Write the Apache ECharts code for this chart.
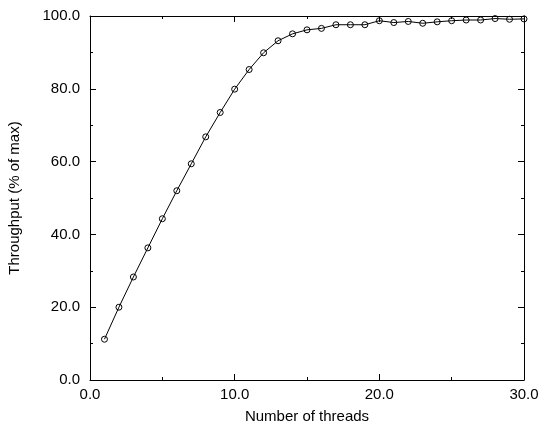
<!DOCTYPE html>
<html><head><meta charset="utf-8">
<script src="https://cdn.jsdelivr.net/npm/echarts@6/dist/echarts.min.js"></script>
<style>html,body{margin:0;padding:0;background:#fff}#c{width:541px;height:424px}</style>
</head><body><div id="c"></div>
<script>
const threads = [1,2,3,4,5,6,7,8,9,10,11,12,13,14,15,16,17,18,19,20,21,22,23,24,25,26,27,28,29,30];
const throughput = [11.2,20.0,28.3,36.3,44.3,52.0,59.4,66.8,73.5,79.9,85.3,89.9,93.2,95.1,96.2,96.6,97.6,97.6,97.6,98.7,98.2,98.5,98.0,98.4,98.7,98.9,98.9,99.3,99.1,99.2];
const xTitle = 'Number of threads';
const yTitle = 'Throughput (% of max)';

const font = 'Liberation Sans, Arial, Helvetica, sans-serif';
const fs = 15;
const axisCommon = {
  axisLine: {show: true, onZero: false, lineStyle: {color: '#000', width: 1}},
  axisTick: {show: true, inside: true, length: 6, lineStyle: {color: '#000'}},
  minorTick: {show: true, splitNumber: 2, length: 3, lineStyle: {color: '#000'}},
  splitLine: {show: false}
};
const chart = echarts.init(document.getElementById('c'));
chart.setOption({
  animation: false,
  grid: {left: 90, right: 17, top: 16, bottom: 44, containLabel: false, outerBoundsMode: 'none'},
  xAxis: [
    Object.assign({type: 'value', min: 0, max: 30, interval: 10, position: 'bottom',
      name: xTitle, nameLocation: 'middle', nameGap: 29,
      nameTextStyle: {fontFamily: font, fontSize: fs, color: '#000'},
      axisLabel: {fontFamily: font, fontSize: fs, color: '#000', margin: 7, formatter: v => v.toFixed(1)}}, axisCommon),
    Object.assign({type: 'value', min: 0, max: 30, interval: 10, position: 'top',
      axisLabel: {show: false}}, axisCommon)
  ],
  yAxis: [
    Object.assign({type: 'value', min: 0, max: 100, interval: 20, position: 'left',
      name: yTitle, nameLocation: 'middle', nameGap: 68, nameRotate: 90,
      nameTextStyle: {fontFamily: font, fontSize: fs, color: '#000'},
      axisLabel: {fontFamily: font, fontSize: fs, color: '#000', margin: 10, formatter: v => v.toFixed(1)}}, axisCommon),
    Object.assign({type: 'value', min: 0, max: 100, interval: 20, position: 'right',
      axisLabel: {show: false}}, axisCommon)
  ],
  series: [{
    type: 'line',
    data: threads.map((t, i) => [t, throughput[i]]),
    symbol: 'circle',
    symbolSize: 6,
    lineStyle: {color: '#000', width: 1},
    itemStyle: {color: 'rgba(0,0,0,0)', borderColor: '#000', borderWidth: 1},
    emphasis: {disabled: true}
  }]
});
</script></body></html>
